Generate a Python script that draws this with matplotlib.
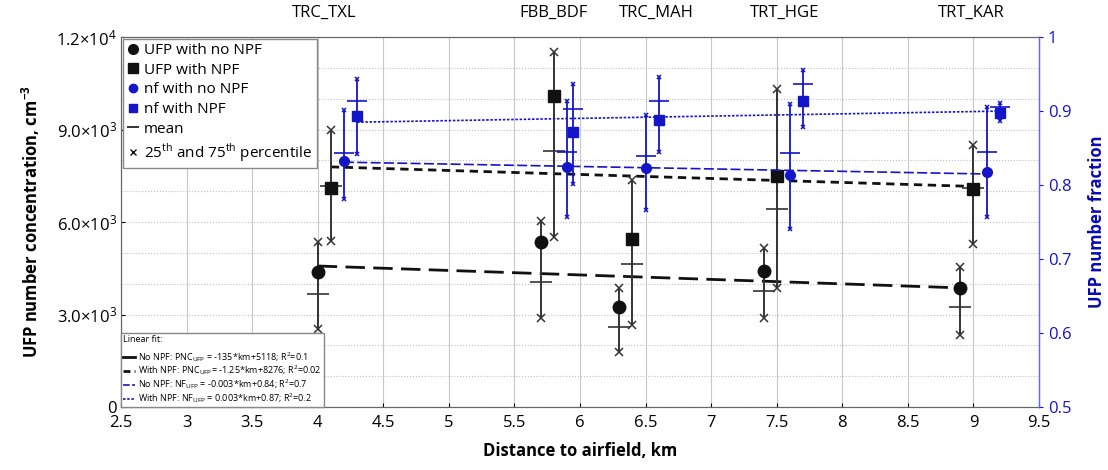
import numpy as np
import matplotlib
matplotlib.use('Agg')
from matplotlib import pyplot as plt
from matplotlib.lines import Line2D
from matplotlib.ticker import MultipleLocator, FixedLocator, FixedFormatter

plt.rcParams['font.family'] = ['Open Sans', 'DejaVu Sans']
plt.rcParams['mathtext.fontset'] = 'custom'
plt.rcParams['mathtext.rm'] = 'Open Sans'

# sites (label text and where it sits on the distance axis)
sites = ['TRC_TXL', 'FBB_BDF', 'TRC_MAH', 'TRT_HGE', 'TRT_KAR']
site_km = [4.05, 5.8, 6.58, 7.56, 8.98]

# UFP number concentration, no NPF
x_ufp_none = [4.0, 5.7, 6.3, 7.4, 8.9]
ufp_none_med = [4370, 5340, 3230, 4420, 3850]
ufp_none_mean = [3655, 4065, 2605, 3760, 3255]
ufp_none_p25 = [2530, 2900, 1795, 2900, 2335]
ufp_none_p75 = [5360, 6020, 3850, 5160, 4550]

# UFP number concentration, with NPF
x_ufp_npf = [4.1, 5.8, 6.4, 7.5, 9.0]
ufp_npf_med = [7090, 10090, 5450, 7500, 7070]
ufp_npf_mean = [7180, 8310, 4640, 6440, 7100]
ufp_npf_p25 = [5390, 5520, 2660, 3870, 5290]
ufp_npf_p75 = [8980, 11520, 7380, 10310, 8490]

# UFP number fraction, no NPF
x_nf_none = [4.2, 5.9, 6.5, 7.6, 9.1]
nf_none_med = [0.833, 0.825, 0.823, 0.814, 0.818]
nf_none_mean = [0.844, 0.845, 0.839, 0.844, 0.845]
nf_none_p25 = [0.781, 0.757, 0.766, 0.740, 0.757]
nf_none_p75 = [0.901, 0.914, 0.895, 0.909, 0.905]

# UFP number fraction, with NPF
x_nf_npf = [4.3, 5.95, 6.6, 7.7, 9.2]
nf_npf_med = [0.893, 0.872, 0.888, 0.913, 0.897]
nf_npf_mean = [0.914, 0.903, 0.914, 0.937, 0.905]
nf_npf_p25 = [0.842, 0.802, 0.845, 0.879, 0.886]
nf_npf_p75 = [0.943, 0.937, 0.946, 0.956, 0.911]

# linear fit lines (end points)
fit_ufp_none_x = [4.0, 8.9]
fit_ufp_none_y = [4575, 3865]
fit_ufp_npf_x = [4.1, 9.05]
fit_ufp_npf_y = [7790, 7150]
fit_nf_none_x = [4.2, 9.1]
fit_nf_none_y = [0.831, 0.815]
fit_nf_npf_x = [4.3, 9.2]
fit_nf_npf_y = [0.885, 0.900]

fit_labels = [r'No NPF: PNC$_{\mathregular{UFP}}$ = -135*km+5118; R$^{\mathregular{2}}$=0.1',
              r'With NPF: PNC$_{\mathregular{UFP}}$= -1.25*km+8276; R$^{\mathregular{2}}$=0.02',
              r'No NPF: NF$_{\mathregular{UFP}}$ = -0.003*km+0.84; R$^{\mathregular{2}}$=0.7',
              r'With NPF: NF$_{\mathregular{UFP}}$ = 0.003*km+0.87; R$^{\mathregular{2}}$=0.2']

left_ticks = [0, 3000, 6000, 9000, 12000]
left_ticklabels = ['0', r'$\mathregular{3.0{\times}10^3}$', r'$\mathregular{6.0{\times}10^3}$',
                   r'$\mathregular{9.0{\times}10^3}$', r'$\mathregular{1.2{\times}10^4}$']

black = '#111111'
bar_black = '#333333'
blue = '#1414c8'

fig = plt.figure(figsize=(11.08, 4.70), dpi=100)
ax = fig.add_axes([0.1092, 0.134, 0.8285, 0.787])
ax2 = ax.twinx()


def draw_group(a, x, med, mean, p25, p75, marker, color, barcolor, ms, xs, msx, lw):
    a.vlines(x, p25, p75, colors=barcolor, lw=lw, zorder=3)
    a.plot(x, p25, 'x', color=barcolor, ms=msx, mew=1.1, zorder=4)
    a.plot(x, p75, 'x', color=barcolor, ms=msx, mew=1.1, zorder=4)
    a.plot(x, mean, '_', color=barcolor, ms=xs, mew=1.2, zorder=4)
    a.plot(x, med, marker, color=color, ms=ms, ls='none', zorder=5)


ax.plot(fit_ufp_none_x, fit_ufp_none_y, color=black, lw=2, dashes=(7, 3), zorder=2)
ax.plot(fit_ufp_npf_x, fit_ufp_npf_y, color=black, lw=2, dashes=(3, 2), zorder=2)
draw_group(ax, x_ufp_none, ufp_none_med, ufp_none_mean, ufp_none_p25, ufp_none_p75,
           'o', black, bar_black, 9, 16, 6, 1.4)
draw_group(ax, x_ufp_npf, ufp_npf_med, ufp_npf_mean, ufp_npf_p25, ufp_npf_p75,
           's', black, bar_black, 9, 16, 6, 1.4)

ax2.plot(fit_nf_none_x, fit_nf_none_y, color=blue, lw=1.2, dashes=(6, 2), zorder=2)
ax2.plot(fit_nf_npf_x, fit_nf_npf_y, color=blue, lw=1.2, dashes=(1.5, 1), zorder=2)
draw_group(ax2, x_nf_none, nf_none_med, nf_none_mean, nf_none_p25, nf_none_p75,
           'o', blue, blue, 7, 14, 3.5, 1.3)
draw_group(ax2, x_nf_npf, nf_npf_med, nf_npf_mean, nf_npf_p25, nf_npf_p75,
           's', blue, blue, 7, 14, 3.5, 1.3)

ax.set_xlim(2.5, 9.5)
ax.set_ylim(0, 12000)
ax2.set_ylim(0.5, 1.0)
ax.set_xticks(np.arange(2.5, 9.51, 0.5))
ax.set_xticklabels(['2.5', '3', '3.5', '4', '4.5', '5', '5.5', '6', '6.5', '7', '7.5', '8', '8.5', '9', '9.5'])
ax.yaxis.set_major_locator(FixedLocator(left_ticks))
ax.yaxis.set_major_formatter(FixedFormatter(left_ticklabels))
ax.yaxis.set_minor_locator(MultipleLocator(1000))
ax.tick_params(axis='y', which='minor', length=0)
ax.tick_params(axis='both', labelsize=12, length=3, direction='in')
ax.tick_params(axis='x', pad=6)
ax.tick_params(axis='y', pad=3)
ax2.set_yticks([0.5, 0.6, 0.7, 0.8, 0.9, 1.0])
ax2.set_yticklabels(['0.5', '0.6', '0.7', '0.8', '0.9', '1'])
ax2.tick_params(axis='y', colors=blue, labelsize=12, length=3, direction='out')

ax.grid(axis='x', color='#c8c8c8', lw=0.8)
ax.grid(axis='y', which='both', color='#c0c0c0', lw=0.8, ls=':')
ax.set_axisbelow(True)

for a in (ax, ax2):
    for s in ('left', 'bottom', 'top'):
        a.spines[s].set_color('#666666')
        a.spines[s].set_linewidth(0.8)
    a.spines['right'].set_color('#6a6ae0')
    a.spines['right'].set_linewidth(0.9)

ax.set_xlabel('Distance to airfield, km', fontsize=12, fontweight='bold', labelpad=8)
ax.set_ylabel(r'UFP number concentration, cm$^{\mathregular{-3}}$', fontsize=12, fontweight='bold', labelpad=10)
ax2.set_ylabel('UFP number fraction', fontsize=12, fontweight='bold', color='#0a0ab4', labelpad=12)

for name, km in zip(sites, site_km):
    ax.text(km, 1.045, name, transform=ax.get_xaxis_transform(), ha='center', va='bottom', fontsize=12)

# legend for markers
h1 = [Line2D([], [], marker='o', color=black, ls='none', ms=7),
      Line2D([], [], marker='s', color=black, ls='none', ms=7),
      Line2D([], [], marker='o', color=blue, ls='none', ms=6),
      Line2D([], [], marker='s', color=blue, ls='none', ms=6),
      Line2D([], [], marker='_', color=black, ls='none', ms=9, mew=1.2),
      Line2D([], [], marker='x', color=black, ls='none', ms=5, mew=1)]
l1 = ['UFP with no NPF', 'UFP with NPF', 'nf with no NPF', 'nf with NPF', 'mean',
      r'25$^{\mathregular{th}}$ and 75$^{\mathregular{th}}$ percentile']
leg1 = ax2.legend(h1, l1, loc='upper left', fontsize=11, frameon=True, fancybox=False,
                  borderaxespad=0.1, handletextpad=0.3, handlelength=0.8, labelspacing=0.3,
                  borderpad=0.3)
leg1.get_frame().set_edgecolor('#888888')
leg1.get_frame().set_alpha(1)
ax2.add_artist(leg1)

# legend for fit lines
h2 = [Line2D([], [], color=black, lw=2),
      Line2D([], [], color=black, lw=2, dashes=(2.5, 1.5)),
      Line2D([], [], color=blue, lw=1.2, dashes=(4, 1.5)),
      Line2D([], [], color=blue, lw=1.2, dashes=(1.5, 1))]
leg2 = ax2.legend(h2, fit_labels, loc='lower left', fontsize=6.5, frameon=True, fancybox=False,
                  title='Linear fit:', title_fontsize=6.5, alignment='left', borderaxespad=0,
                  handlelength=1.3, handletextpad=0.4, labelspacing=0.0, borderpad=0.2)
leg2.get_frame().set_edgecolor('#888888')
leg2.get_frame().set_alpha(1)
leg2._legend_box.sep = 4

fig.savefig('out.png', dpi=100)
